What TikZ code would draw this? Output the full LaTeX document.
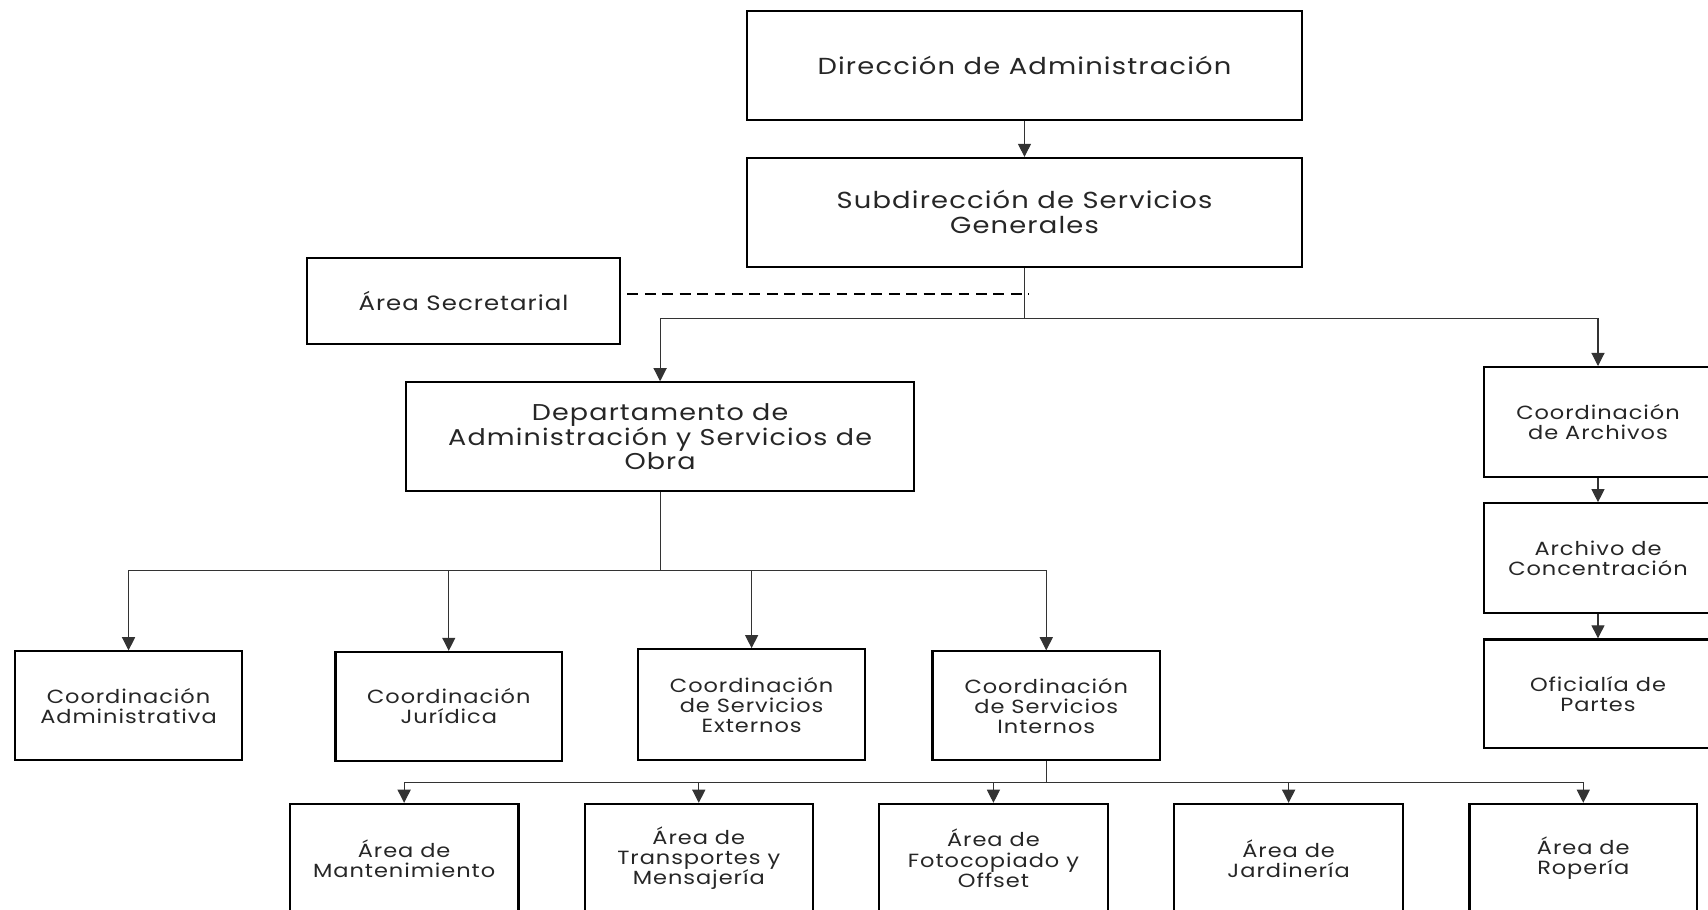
\documentclass[tikz,border=0pt]{standalone}
\usepackage{fontspec}
\setmainfont{Poppins}[LetterSpace=5,FakeStretch=1.18]
\newfontfamily\smallf{Poppins}[LetterSpace=5,FakeStretch=1.18]
\usetikzlibrary{arrows.meta}
\begin{document}
\begin{tikzpicture}[x=1pt,y=-1pt,
  box/.style={draw=black,line width=2pt,inner sep=0pt,align=center,text=black!85},
  big/.style={box,font=\fontsize{21.3}{23}\selectfont},
  small/.style={box,font=\smallf\fontsize{17.5}{18.5}\selectfont,minimum width=209pt,minimum height=100pt},
  conn/.style={draw=black!80,line width=1pt},
  arr/.style={conn,-{Triangle[width=12pt,length=12pt]}},
]
\useasboundingbox (0,0) rectangle (1568,835);
\clip (0,0) rectangle (1568,835);

% top
\node[big,minimum width=509pt,minimum height=100pt] (dir) at (940.5,60) {Dirección de Administración};
\node[big,minimum width=509pt,minimum height=100pt] (sub) at (940.5,195) {Subdirección de Servicios\\Generales};
\node[box,font=\fontsize{19}{21}\selectfont,minimum width=287pt,minimum height=79pt] (sec) at (425.5,276.5) {Área Secretarial};
\node[box,font=\fontsize{21}{22}\selectfont,minimum width=466pt,minimum height=100pt] (dep) at (606,401) {Departamento de\\Administración y Servicios de\\Obra};

% right column
\node[small,minimum height=101pt] (carch) at (1467,387.5) {Coordinación\\de Archivos};
\node[small,minimum height=101pt] (conc) at (1467,512.5) {Archivo de\\Concentración};
\node[small] (ofi) at (1467,637) {Oficialía de\\Partes};

% middle row
\node[small,minimum width=208pt] (cadm) at (118,648) {Coordinación\\Administrativa};
\node[small,minimum width=208pt] (cjur) at (412,648.5) {Coordinación\\Jurídica};
\node[small,minimum width=208pt,minimum height=102pt] (cext) at (690,647) {Coordinación\\de Servicios\\Externos};
\node[small] (cint) at (960.5,648) {Coordinación\\de Servicios\\Internos};

% bottom row
\node[small,minimum width=210pt] (amant) at (371,788) {Área de\\Mantenimiento};
\node[small] (atrans) at (641.5,788) {Área de\\Transportes y\\Mensajería};
\node[small,minimum width=210pt] (afoto) at (912,788) {Área de\\Fotocopiado y\\Offset};
\node[small,minimum width=210pt] (ajard) at (1183,788) {Área de\\Jardinería};
\node[small] (arop) at (1453.5,788) {Área de\\Ropería};

% connectors
\draw[arr] (dir.south) -- (sub.north);

\coordinate (d1) at (576,270);
\coordinate (d2) at (945,270);
\draw[line width=2pt,dash pattern=on 10pt off 6pt] (d1) -- (d2);

\coordinate (j1) at (940.5,292);
\draw[conn] (sub.south) -- (j1);
\draw[arr] (j1) -| (dep.north);
\draw[arr] (j1) -| (carch.north);
\draw[arr] (carch.south) -- (conc.north);
\draw[arr] (conc.south) -- (ofi.north);

\coordinate (j2) at (606,524);
\draw[conn] (dep.south) -- (j2);
\draw[arr] (j2) -| (cadm.north);
\draw[arr] (j2) -| (cjur.north);
\draw[arr] (j2) -| (cext.north);
\draw[arr] (j2) -| (cint.north);

\coordinate (j3) at (960.5,718);
\draw[conn] (cint.south) -- (j3);
\draw[arr] (j3) -| (amant.north);
\draw[arr] (j3) -| (atrans.north);
\draw[arr] (j3) -| (afoto.north);
\draw[arr] (j3) -| (ajard.north);
\draw[arr] (j3) -| (arop.north);
\end{tikzpicture}
\end{document}
